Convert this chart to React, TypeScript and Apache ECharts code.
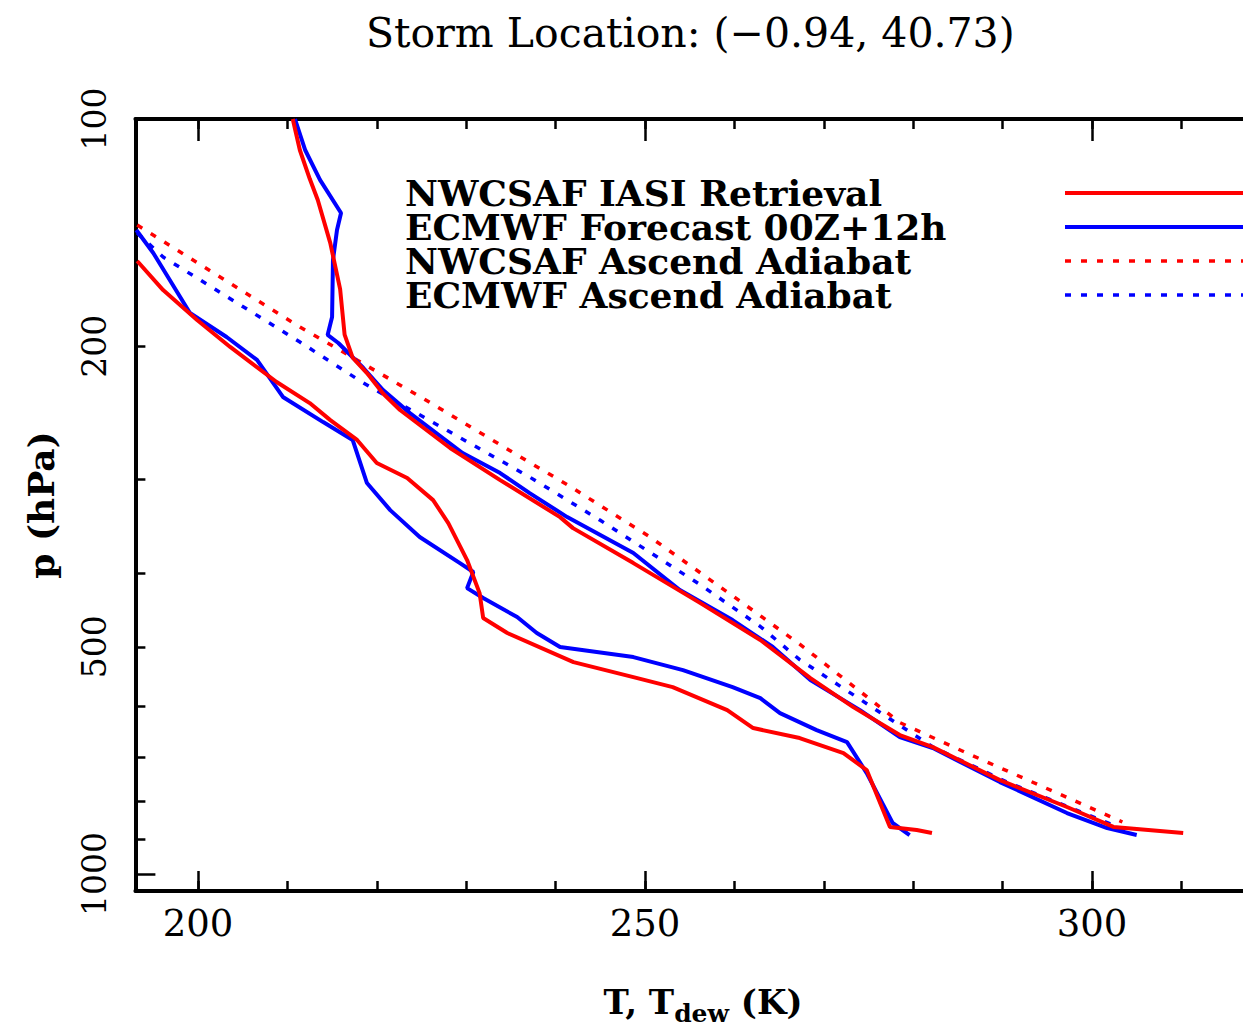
import React, { useEffect, useRef } from "react";
import * as echarts from "echarts";

const SERIF = "'DejaVu Serif', serif";

const titleText = "Storm Location: (\u22120.94, 40.73)";
const legendNames = [
  "NWCSAF IASI Retrieval",
  "ECMWF Forecast 00Z+12h",
  "NWCSAF Ascend Adiabat",
  "ECMWF Ascend Adiabat",
];

// NWCSAF IASI retrieval: temperature (K) vs pressure (hPa)
const nwcTempT = [210.6, 211.4, 212.5, 213.4, 214.8, 215.9, 216.4, 217.3, 218.9, 220.7, 222.6, 228.2, 233.8, 240.5, 241.95, 248.7, 256.2, 262.9, 268.5, 273.3, 278.5, 282.2, 289.7, 297.2, 302.4, 310.2];
const nwcTempP = [100, 110, 120, 128, 146, 168, 193, 207, 217, 231, 242.9, 272.7, 300.8, 336.7, 348.2, 387.4, 437.7, 489.8, 550.1, 601.1, 654.5, 679, 751, 815, 866, 882];
// NWCSAF IASI retrieval: dew point
const nwcDewT = [193.2, 196.1, 199.9, 203.6, 208.8, 212.5, 214.8, 217.8, 220.0, 223.4, 226.3, 228.0, 230.1, 231.5, 231.9, 234.6, 242.0, 248.7, 253.1, 259.2, 262.1, 267.3, 272.2, 274.8, 277.4, 280.4, 282.1];
const nwcDewP = [154.2, 168.5, 184.6, 200.4, 223.0, 237.8, 250.5, 266.1, 285.5, 298.9, 319.7, 342.9, 383.8, 424.5, 458.1, 479.5, 524.0, 548.5, 565.5, 606.6, 640.6, 660.5, 691.4, 728.3, 866.4, 874.4, 882.4];

// ECMWF forecast: temperature
const ecmTempT = [210.85, 212.0, 213.65, 216.0, 215.55, 215.1, 215.0, 214.5, 215.7, 218.5, 220.7, 223.7, 229.6, 233.8, 237.1, 241.3, 248.7, 253.9, 259.8, 264.3, 268.5, 274.05, 278.5, 282.2, 289.7, 297.2, 301.7, 305.0];
const ecmTempP = [100, 110, 120.4, 133.2, 140.3, 153.7, 182.9, 193.2, 198.0, 213.7, 228.5, 245.2, 276.9, 294.4, 312.9, 336.7, 375.7, 420.6, 460.9, 500.4, 553.5, 606.6, 658.5, 681.0, 755.4, 830.1, 869.1, 887.8];
// ECMWF forecast: dew point
const ecmDewT = [193.1, 195.0, 199.1, 203.2, 206.6, 209.5, 214.0, 217.3, 218.9, 221.5, 224.8, 229.3, 230.8, 230.1, 231.9, 235.7, 237.9, 240.5, 248.7, 254.25, 259.8, 262.9, 265.1, 269.2, 272.6, 274.8, 277.7, 279.6];
const ecmDewP = [140.3, 150.5, 180.7, 194.4, 208.5, 233.4, 252.0, 266.1, 303.5, 329.6, 357.8, 387.4, 398.1, 418.1, 431.0, 456.7, 479.5, 500.4, 516.0, 536.9, 565.5, 584.8, 612.2, 644.6, 668.6, 734.9, 855.8, 887.8];

// Ascent adiabats
const nwcAdiabatT = [193.2, 211.4, 224.8, 237.1, 241.3, 250.6, 259.8, 267.3, 278.5, 286.0, 303.4];
const nwcAdiabatP = [138.2, 188.6, 233.0, 285.0, 305.0, 358.0, 428.0, 496.0, 630.0, 691.4, 853.2];
const ecmAdiabatT = [193.2, 196.1, 211.4, 218.5, 237.1, 245.0, 256.2, 262.9, 267.3, 282.2, 290.5, 304.6];
const ecmAdiabatP = [141.6, 152.3, 197.4, 223.7, 298.0, 340.0, 414.0, 470.0, 520.0, 678.9, 755.4, 882.4];

// Axes
const xMin = 193;
const xMax = 320;
const xMinorTicks = [200, 210, 220, 230, 240, 250, 260, 270, 280, 290, 300, 310];
const xMajorTicks = [200, 250, 300];
const xLabels = [200, 250, 300];
const yMin = 100;
const yMax = 1053;
const yMinorTicks = [200, 300, 400, 500, 600, 700, 800, 900];
const yMajorTicks = [100, 1000];
const yLabels = [100, 200, 500, 1000];

const RED = "#ff0000";
const BLUE = "#0000ff";

const pairs = (t: number[], p: number[]) => t.map((v, i) => [v, p[i]]);

function buildOption(): any {
  const tickStyle = { color: "#000", width: 2.5 };
  const solid = (color: string) => ({ color, width: 4, type: "solid" });
  const dotted = (color: string) => ({ color, width: 3.5, type: [6, 10] });
  const lineSeries = (name: string, data: number[][], color: string, ls: any) => ({
    name,
    type: "line",
    data,
    symbol: "none",
    showSymbol: false,
    color,
    lineStyle: ls,
    clip: true,
    silent: true,
  });
  const xBase = {
    type: "value",
    min: xMin,
    max: xMax,
    splitLine: { show: false },
  };
  const yBase = {
    type: "log",
    logBase: 10,
    min: yMin,
    max: yMax,
    inverse: true,
    splitLine: { show: false },
  };
  return {
    animation: false,
    backgroundColor: "#ffffff",
    title: {
      text: titleText,
      left: 366,
      top: 12,
      padding: 0,
      textStyle: { fontFamily: SERIF, fontSize: 41, fontWeight: "normal", color: "#000" },
    },
    grid: {
      left: 135.4,
      right: 29.2,
      top: 119,
      bottom: 136,
      containLabel: false,
      outerBoundsMode: "none",
    },
    legend: {
      data: legendNames,
      orient: "vertical",
      left: 405,
      top: 175,
      align: "right",
      padding: 0,
      itemGap: -2,
      itemWidth: 240,
      itemHeight: 34,
      selectedMode: false,
      itemStyle: { opacity: 0 },
      lineStyle: { width: "inherit" },
      formatter: (n: string) => `{t|${n}}`,
      textStyle: {
        rich: {
          t: { fontFamily: SERIF, fontSize: 36, fontWeight: "bold", color: "#000", lineHeight: 34, width: 655, align: "left" },
        },
      },
    },
    xAxis: [
      {
        ...xBase,
        position: "bottom",
        axisLine: { show: true, onZero: false, lineStyle: { color: "#000", width: 4 } },
        axisTick: { show: true, inside: true, length: 10, customValues: xMinorTicks, lineStyle: tickStyle },
        axisLabel: { customValues: xLabels, fontFamily: SERIF, fontSize: 37, color: "#000", margin: 14 },
        name: "{b|T, T}{s|dew}{b| (K)}",
        nameLocation: "middle",
        nameGap: 86,
        nameTextStyle: {
          rich: {
            b: { fontFamily: SERIF, fontSize: 34, fontWeight: "bold", color: "#000" },
            s: { fontFamily: SERIF, fontSize: 25, fontWeight: "bold", color: "#000", padding: [24, 0, 0, 0], verticalAlign: "bottom" },
          },
        },
      },
      {
        ...xBase,
        position: "bottom",
        axisLine: { show: false, onZero: false },
        axisTick: { show: true, inside: true, length: 20, customValues: xMajorTicks, lineStyle: tickStyle },
        axisLabel: { show: false },
      },
      {
        ...xBase,
        position: "top",
        axisLine: { show: true, onZero: false, lineStyle: { color: "#000", width: 4 } },
        axisTick: { show: true, inside: true, length: 10, customValues: xMinorTicks, lineStyle: tickStyle },
        axisLabel: { show: false },
      },
      {
        ...xBase,
        position: "top",
        axisLine: { show: false, onZero: false },
        axisTick: { show: true, inside: true, length: 22, customValues: xMajorTicks, lineStyle: tickStyle },
        axisLabel: { show: false },
      },
    ],
    yAxis: [
      {
        ...yBase,
        position: "left",
        axisLine: { show: true, onZero: false, lineStyle: { color: "#000", width: 4 } },
        axisTick: { show: true, inside: true, length: 10, customValues: yMinorTicks, lineStyle: tickStyle },
        axisLabel: {
          customValues: yLabels,
          rotate: 90,
          fontFamily: SERIF,
          fontSize: 33,
          color: "#000",
          margin: 24,
          formatter: (v: number) => String(Math.round(v)),
        },
        name: "p (hPa)",
        nameLocation: "middle",
        nameGap: 76,
        nameTextStyle: { fontFamily: SERIF, fontSize: 36, fontWeight: "bold", color: "#000" },
      },
      {
        ...yBase,
        position: "left",
        axisLine: { show: false, onZero: false },
        axisTick: { show: true, inside: true, length: 20, customValues: yMajorTicks, lineStyle: tickStyle },
        axisLabel: { show: false },
      },
    ],
    series: [
      lineSeries(legendNames[3], pairs(ecmAdiabatT, ecmAdiabatP), BLUE, dotted(BLUE)),
      lineSeries(legendNames[2], pairs(nwcAdiabatT, nwcAdiabatP), RED, dotted(RED)),
      lineSeries(legendNames[1], pairs(ecmTempT, ecmTempP), BLUE, solid(BLUE)),
      lineSeries(legendNames[1], pairs(ecmDewT, ecmDewP), BLUE, solid(BLUE)),
      lineSeries(legendNames[0], pairs(nwcTempT, nwcTempP), RED, solid(RED)),
      lineSeries(legendNames[0], pairs(nwcDewT, nwcDewP), RED, solid(RED)),
    ],
  };
}

export default function App() {
  const ref = useRef<HTMLDivElement>(null);
  useEffect(() => {
    if (!ref.current) return;
    const chart = echarts.init(ref.current, null, { renderer: "svg" });
    chart.setOption(buildOption());
    return () => chart.dispose();
  }, []);
  return (
    <div
      style={{
        position: "fixed",
        left: 0,
        top: 0,
        width: 1243,
        height: 1027,
        overflow: "hidden",
        background: "#ffffff",
      }}
    >
      <div ref={ref} style={{ width: 1300, height: 1027 }} />
    </div>
  );
}
